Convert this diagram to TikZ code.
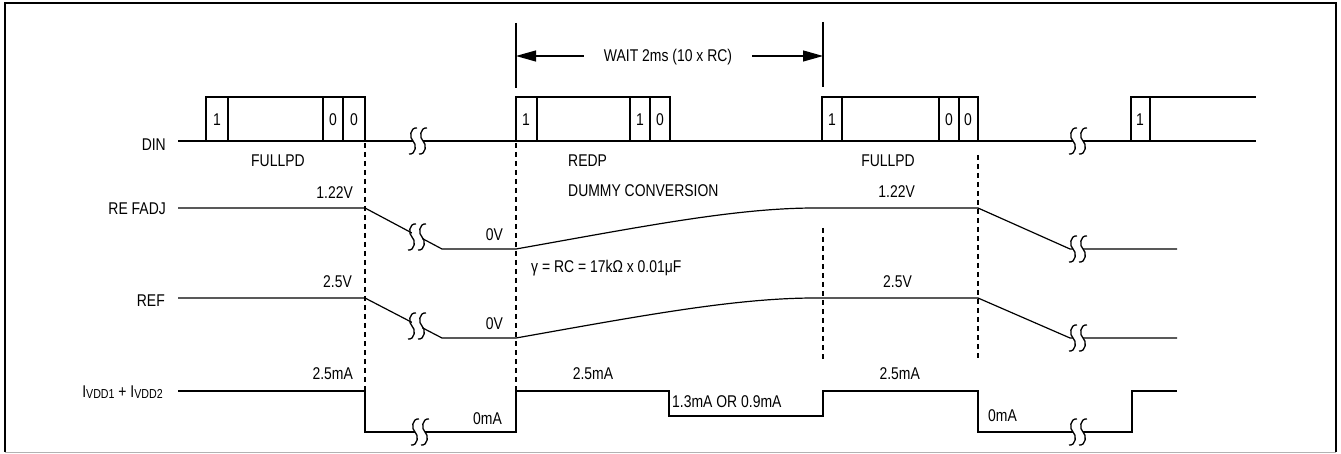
\documentclass[tikz,border=0pt]{standalone}
\usepackage{fontspec}
\setmainfont[FakeStretch=0.82]{Liberation Sans}
\usetikzlibrary{arrows.meta}

\begin{document}
\begin{tikzpicture}[x=1pt, y=-1pt,
		sig/.style={line width=1.2pt, line join=miter},
		guide/.style={line width=1.1pt, dash pattern=on 5pt off 4pt},
		lbl/.style={inner sep=0pt, font=\fontsize{17}{19}\selectfont},
		waitarrow/.style={sig, -{Triangle[length=20pt,width=11pt]}}]
				\useasboundingbox (0,0) rectangle (1341,454);

				% Frame
				\draw[line width=2pt] (5,452) -- (5,3) -- (1336,3) -- (1336,452);
				\draw[gray!60, line width=1pt] (5,452) -- (1336,452);

				% DIN
				\node[lbl, anchor=base east] (dinlbl) at (166,151) {DIN};
				\draw[sig] (178,141) -- (1256,141);
				\draw[sig] (206,97) rectangle (228,141);
				\draw[sig] (228,97) rectangle (323,141);
				\draw[sig] (323,97) rectangle (343,141);
				\draw[sig] (343,97) rectangle (365,141);
				\node[lbl, anchor=base] (bitA1) at (217,126) {1};
				\node[lbl, anchor=base] (bitA2) at (333,126) {0};
				\node[lbl, anchor=base] (bitA3) at (354,126) {0};

				\draw[sig] (516,97) rectangle (537,141);
				\draw[sig] (537,97) rectangle (630,141);
				\draw[sig] (630,97) rectangle (650,141);
				\draw[sig] (650,97) rectangle (670,141);
				\node[lbl, anchor=base] (bitB1) at (526,126) {1};
				\node[lbl, anchor=base] (bitB2) at (640,126) {1};
				\node[lbl, anchor=base] (bitB3) at (660,126) {0};

				\draw[sig] (822,97) rectangle (842,141);
				\draw[sig] (842,97) rectangle (939,141);
				\draw[sig] (939,97) rectangle (959,141);
				\draw[sig] (959,97) rectangle (978,141);
				\node[lbl, anchor=base] (bitC1) at (832,126) {1};
				\node[lbl, anchor=base] (bitC2) at (949,126) {0};
				\node[lbl, anchor=base] (bitC3) at (968,126) {0};

				\draw[sig] (1131,97) rectangle (1150,141);
				\draw[sig] (1150,97) -- (1256,97);
				\node[lbl, anchor=base] (bitD1) at (1140,126) {1};

				\node[lbl, anchor=base west] (fullpdA) at (251,167) {FULLPD};
				\node[lbl, anchor=base west] (redp) at (568,167) {REDP};
				\node[lbl, anchor=base west] (dummy) at (568,197) {DUMMY CONVERSION};
				\node[lbl, anchor=base east] (fullpdB) at (915,167) {FULLPD};

				% Wait time
				\draw[sig] (516,23) -- (516,88);
				\draw[sig] (823,22) -- (823,87);
				\coordinate (waitL) at (516,56);
				\coordinate (waitR) at (823,56);
				\node[lbl, anchor=base] (wait) at (668,62) {WAIT 2ms (10 x RC)};
				\draw[waitarrow] ([xshift=-20pt]wait.west |- waitL) -- (waitL);
				\draw[waitarrow] ([xshift=20pt]wait.east |- waitR) -- (waitR);

				% RE FADJ
				\node[lbl, anchor=base east] (refadjlbl) at (166,215) {RE FADJ};
				\draw[sig] (178,208) -- (365,208) -- (442,249) -- (516,249)
					.. controls (640,227) and (735,208) .. (815,208) -- (978,208) -- (1070,249) -- (1177,249);
				\node[lbl, anchor=base east] (voltA) at (353,199) {1.22V};
				\node[lbl, anchor=base east] (zeroA) at (503,241) {0V};
				\node[lbl, anchor=base east] (voltB) at (915,198) {1.22V};
				\node[lbl, anchor=base west] (tau) at (531,273) {γ = RC = 17kΩ x 0.01μF};

				% REF
				\node[lbl, anchor=base east] (reflbl) at (165,306) {REF};
				\draw[sig] (178,298) -- (365,298) -- (442,338) -- (516,338)
					.. controls (640,316) and (735,298) .. (815,298) -- (978,298) -- (1070,338) -- (1177,338);
				\node[lbl, anchor=base east] (refA) at (352,288) {2.5V};
				\node[lbl, anchor=base east] (zeroB) at (503,330) {0V};
				\node[lbl, anchor=base east] (refB) at (912,288) {2.5V};

				% Supply current
				\node[lbl, anchor=base east] (idlbl) at (163,397)
					{I\raisebox{-1.5pt}{\fontsize{13}{14}\selectfont VDD1} + I\raisebox{-1.5pt}{\fontsize{13}{14}\selectfont VDD2}};
				\draw[sig] (178,391) -- (365,391) -- (365,432) -- (516,432) -- (516,391) -- (669,391) -- (669,416)
					-- (823,416) -- (823,391) -- (978,391) -- (978,432) -- (1132,432) -- (1132,391) -- (1177,391);
				\node[lbl, anchor=base east] (curA) at (353,379) {2.5mA};
				\node[lbl, anchor=base east] (offA) at (502,424) {0mA};
				\node[lbl, anchor=base] (curB) at (593,379) {2.5mA};
				\node[lbl, anchor=base west] (curC) at (672,407) {1.3mA OR 0.9mA};
				\node[lbl, anchor=base east] (curD) at (920,379) {2.5mA};
				\node[lbl, anchor=base west] (offB) at (988,421) {0mA};

				% Dashed guides
				\draw[guide] (365,143) -- (365,391);
				\draw[guide] (516,143) -- (516,391);
				\draw[guide] (823,228) -- (823,360);
				\draw[guide] (978,155) -- (978,360);

				% Breaks
				\foreach \bx/\by in {418/141, 1078/141, 417/237, 417/326, 1078/249, 1078/338, 420/432, 1078/432} {
					\fill[white] (\bx-5,\by-9) rectangle (\bx+5,\by+9);
					\foreach \sx in {-5,5}
						\draw[line width=1.3pt] (\bx+\sx+4,\by-13) .. controls (\bx+\sx-3,\by-14) and (\bx+\sx-4,\by-3) .. (\bx+\sx,\by)
							.. controls (\bx+\sx+4,\by+3) and (\bx+\sx+3,\by+14) .. (\bx+\sx-4,\by+13);
				}
			\end{tikzpicture}
\end{document}
